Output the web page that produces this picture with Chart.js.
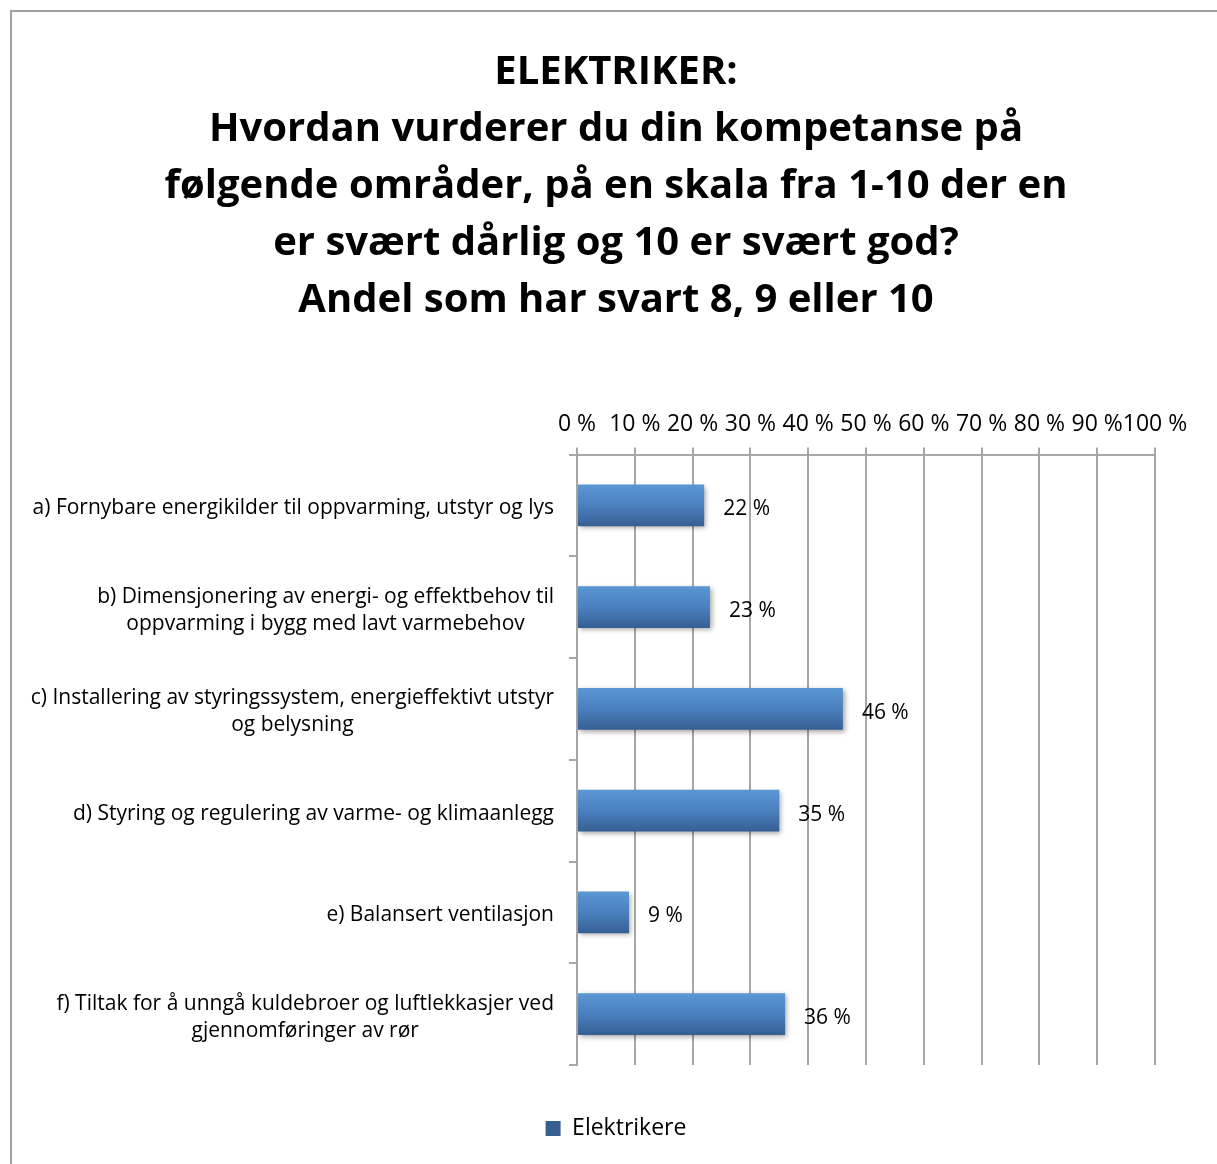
<!DOCTYPE html>
<html>
<head>
<meta charset="utf-8">
<script src="https://cdn.jsdelivr.net/npm/chart.js@4.4.1/dist/chart.umd.min.js"></script>
<style>
  html, body { margin: 0; padding: 0; background: #fff; }
  canvas { display: block; }
</style>
</head>
<body>
<canvas id="chart" width="1217" height="1164"></canvas>
<script>
// Survey answers: share of electricians rating themselves 8, 9 or 10
const titleLines = [
  'ELEKTRIKER:',
  'Hvordan vurderer du din kompetanse på',
  'følgende områder, på en skala fra 1-10 der en',
  'er svært dårlig og 10 er svært god?',
  'Andel som har svart 8, 9 eller 10'
];
const categories = [
  ['a) Fornybare energikilder til oppvarming, utstyr og lys'],
  ['b) Dimensjonering av energi- og effektbehov til', 'oppvarming i bygg med lavt varmebehov'],
  ['c) Installering av styringssystem, energieffektivt utstyr', 'og belysning'],
  ['d) Styring og regulering av varme- og klimaanlegg'],
  ['e) Balansert ventilasjon'],
  ['f) Tiltak for å unngå kuldebroer og luftlekkasjer ved', 'gjennomføringer av rør']
];
const seriesName = 'Elektrikere';
const values = [22, 23, 46, 35, 9, 36];
const axisMin = 0;
const axisMax = 100;
const axisStep = 10;
const pctLabel = v => v + ' %';

const FONT = '"Open Sans"';
const GRID = '#a6a6a6';
const CAT_PCT = 1;
const BAR_PCT = 0.41;
const BAR_SOLID = '#4a7ebb';

// Vertical blue gradient for each bar, spanning that bar's own thickness
function barFill(ctx) {
  const chart = ctx.chart;
  const y = chart.scales && chart.scales.y;
  if (ctx.dataIndex === undefined || !y) return BAR_SOLID;
  const p0 = y.getPixelForValue(0);
  const p1 = y.getPixelForValue(1);
  const cy = y.getPixelForValue(ctx.dataIndex);
  if (![p0, p1, cy].every(Number.isFinite)) return BAR_SOLID;
  const half = Math.abs(p1 - p0) * CAT_PCT * BAR_PCT / 2;
  const g = chart.ctx.createLinearGradient(0, cy - half, 0, cy + half);
  g.addColorStop(0, '#5a97d3');
  g.addColorStop(0.5, '#4a80bf');
  g.addColorStop(1, '#365f92');
  return g;
}

// Grey frame around the chart
const framePlugin = {
  id: 'frame',
  beforeDraw(chart) {
    const c = chart.ctx;
    c.save();
    c.fillStyle = '#fff';
    c.fillRect(0, 0, chart.width, chart.height);
    c.strokeStyle = '#a0a0a0';
    c.lineWidth = 2;
    c.strokeRect(11, 11, chart.width + 20, chart.height + 20);
    c.restore();
  }
};

// Soft drop shadow under the bars
const shadowPlugin = {
  id: 'barShadow',
  beforeDatasetsDraw(chart) {
    const c = chart.ctx;
    c.save();
    c.shadowColor = 'rgba(0,0,0,0.35)';
    c.shadowBlur = 5;
    c.shadowOffsetX = 2;
    c.shadowOffsetY = 2;
  },
  afterDatasetsDraw(chart) {
    chart.ctx.restore();
  }
};

// Category labels: block right-aligned to the axis, lines centred within the block
const categoryLabelPlugin = {
  id: 'categoryLabels',
  afterDraw(chart) {
    const c = chart.ctx;
    const y = chart.scales.y;
    const lh = 27;
    c.save();
    c.font = '21px ' + FONT;
    c.fillStyle = '#000';
    c.textBaseline = 'middle';
    c.textAlign = 'center';
    categories.forEach((lines, i) => {
      const cy = y.getPixelForValue(i) + 3;
      const w = Math.max(...lines.map(l => c.measureText(l).width));
      const cx = y.right - 23 - w / 2;
      lines.forEach((l, j) => {
        c.fillText(l, cx, cy + (j - (lines.length - 1) / 2) * lh);
      });
    });
    c.restore();
  }
};

// Value labels to the right of each bar
const valueLabelPlugin = {
  id: 'valueLabels',
  afterDraw(chart) {
    const c = chart.ctx;
    const meta = chart.getDatasetMeta(0);
    c.save();
    c.font = '21px ' + FONT;
    c.fillStyle = '#000';
    c.textBaseline = 'middle';
    c.textAlign = 'left';
    meta.data.forEach((bar, i) => {
      c.fillText(pctLabel(values[i]), bar.x + 19, bar.y + 4);
    });
    c.restore();
  }
};

new Chart(document.getElementById('chart'), {
  type: 'bar',
  data: {
    labels: categories,
    datasets: [{
      label: seriesName,
      data: values,
      backgroundColor: barFill,
      borderWidth: 0,
      categoryPercentage: CAT_PCT,
      barPercentage: BAR_PCT
    }]
  },
  options: {
    indexAxis: 'y',
    responsive: false,
    animation: false,
    layout: { padding: { left: 77, right: 62, top: 44, bottom: 14 } },
    scales: {
      x: {
        position: 'top',
        min: axisMin,
        max: axisMax,
        ticks: {
          stepSize: axisStep,
          autoSkip: false,
          maxRotation: 0,
          padding: 9,
          color: '#000',
          font: { family: FONT, size: 23 },
          callback: v => pctLabel(v)
        },
        grid: { color: GRID, lineWidth: 2, tickLength: 7, drawOnChartArea: true },
        border: { display: true, color: GRID, width: 2 }
      },
      y: {
        ticks: { display: false },
        grid: { color: GRID, lineWidth: 2, tickLength: 8, drawOnChartArea: false, offset: true },
        border: { display: true, color: GRID, width: 2 },
        afterFit(scale) { scale.width = 500; }
      }
    },
    plugins: {
      title: {
        display: true,
        text: titleLines,
        color: '#000',
        font: { family: FONT, size: 40, weight: 'bold', lineHeight: 57 / 40 },
        padding: { top: 0, bottom: 73 }
      },
      legend: {
        position: 'bottom',
        labels: {
          color: '#000',
          font: { family: FONT, size: 23 },
          boxWidth: 15,
          boxHeight: 15,
          padding: 52
        }
      },
      tooltip: { enabled: false }
    }
  },
  plugins: [framePlugin, shadowPlugin, categoryLabelPlugin, valueLabelPlugin]
});
</script>
</body>
</html>
